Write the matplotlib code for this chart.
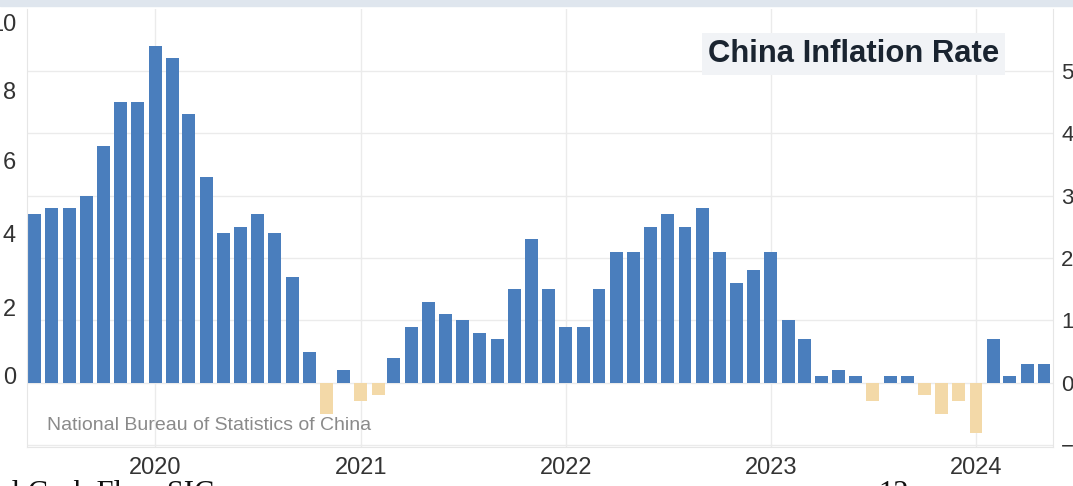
import datetime as dt
import matplotlib
matplotlib.use("Agg")
import matplotlib.pyplot as plt
import matplotlib.dates as mdates
from matplotlib import font_manager as fm

# monthly CPI yoy, Jun 2019 - May 2024
start = dt.date(2019, 6, 1)
values = [2.7, 2.8, 2.8, 3.0, 3.8, 4.5, 4.5,
          5.4, 5.2, 4.3, 3.3, 2.4, 2.5, 2.7, 2.4, 1.7, 0.5, -0.5, 0.2,
          -0.3, -0.2, 0.4, 0.9, 1.3, 1.1, 1.0, 0.8, 0.7, 1.5, 2.3, 1.5,
          0.9, 0.9, 1.5, 2.1, 2.1, 2.5, 2.7, 2.5, 2.8, 2.1, 1.6, 1.8,
          2.1, 1.0, 0.7, 0.1, 0.2, 0.1, -0.3, 0.1, 0.1, -0.2, -0.5, -0.3,
          -0.8, 0.7, 0.1, 0.3, 0.3]
right_ticks = [-1, 0, 1, 2, 3, 4, 5]
years = [2020, 2021, 2022, 2023, 2024]
left_labels = ["10", "8", "6", "4", "2", "0"]
left_label_y = [25, 93, 163, 236, 310, 378]

dates = []
for i in range(len(values)):
    m = start.month - 1 + i
    dates.append(dt.date(start.year + m // 12, m % 12 + 1, 1))

names = {f.name for f in fm.fontManager.ttflist}
font = "Liberation Sans Narrow" if "Liberation Sans Narrow" in names else "Liberation Sans"
plt.rcParams["font.family"] = [font, "DejaVu Sans"]

W, H = 1073, 486
fig = plt.figure(figsize=(W / 100, H / 100), dpi=100)
fig.patch.set_facecolor("white")
# thin strip at the top of the screenshot
fig.patches.append(plt.Rectangle((0, 1 - 6 / H), 1, 6 / H, transform=fig.transFigure,
                                 color="#dfe6ee", zorder=0))

ax = fig.add_axes([27 / W, 1 - 447 / H, (1053 - 27) / W, (447 - 9) / H])
colors = ["#4a7ebd" if v >= 0 else "#f3d9a8" for v in values]
ax.bar(dates, values, width=23, color=colors, zorder=2)

ax.set_xlim(dt.date(2019, 5, 18), dt.date(2024, 5, 17))
ax.set_ylim(-1.03, 5.99)
ax.set_xticks([dt.date(y, 1, 1) for y in years])
ax.xaxis.set_major_formatter(mdates.DateFormatter("%Y"))
ax.yaxis.tick_right()
ax.set_yticks(right_ticks)
ax.grid(True, color="#ebebeb", linewidth=1, zorder=0)
ax.tick_params(axis="both", length=0, labelsize=17, colors="#333333")
ax.tick_params(axis="x", pad=7)
ax.tick_params(axis="y", labelsize=16, pad=6)
for s in ax.spines.values():
    s.set_color("#e6e6e6")
ax.spines["top"].set_visible(False)

fig.text(708 / W, 1 - 54 / H, "China Inflation Rate", fontsize=22.3,
         fontweight="bold", color="#1a2430", ha="left", va="center",
         bbox=dict(facecolor="#f1f3f6", edgecolor="none", pad=4), zorder=5)
fig.text(47 / W, 1 - 425 / H, "National Bureau of Statistics of China", fontsize=14,
         color="#8a8a8a", ha="left", va="center")

for lab, y in zip(left_labels, left_label_y):
    fig.text(16 / W, 1 - y / H, lab, fontsize=17, color="#333333", ha="right", va="center")

# cut-off text at the bottom edge
fig.text(-2 / W, 1 - 480 / H, "al Cash Flow SIC", fontsize=22, family="Liberation Serif",
         color="#111111", ha="left", va="top")
fig.text(878 / W, 1 - 480 / H, "12", fontsize=22, family="Liberation Serif",
         color="#111111", ha="left", va="top")

fig.savefig("out.png", dpi=100)
